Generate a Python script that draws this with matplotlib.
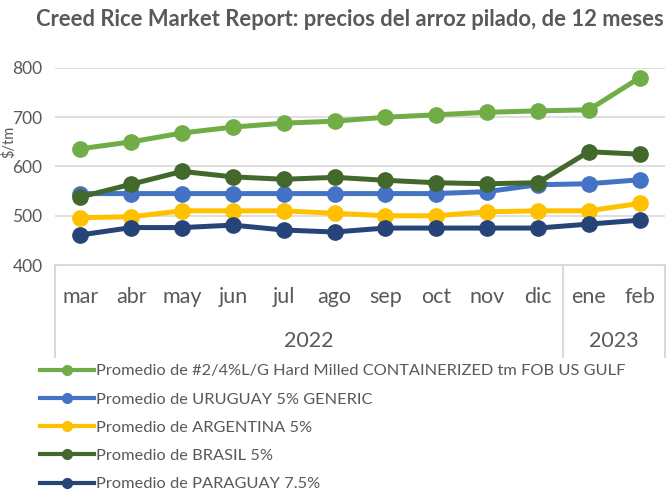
import matplotlib.pyplot as plt
from matplotlib.lines import Line2D

plt.rcParams['font.family'] = ['Lato', 'DejaVu Sans']

meses = ['mar', 'abr', 'may', 'jun', 'jul', 'ago', 'sep', 'oct', 'nov', 'dic', 'ene', 'feb']
anios = ['2022', '2023']
anio_n = [10, 2]

us_gulf = [636, 650, 668, 680, 688, 692, 700, 705, 710, 713, 715, 780]
uruguay = [545, 545, 545, 545, 545, 545, 545, 545, 549, 563, 565, 573]
argentina = [496, 498, 510, 510, 510, 505, 500, 500, 508, 510, 510, 525]
brasil = [538, 564, 590, 579, 574, 578, 572, 567, 565, 567, 630, 625]
paraguay = [461, 476, 476, 481, 471, 467, 475, 475, 475, 475, 483, 491]

series = [
    ('Promedio de #2/4%L/G Hard Milled CONTAINERIZED tm FOB US GULF', us_gulf, '#70AD47'),
    ('Promedio de URUGUAY 5% GENERIC', uruguay, '#4472C4'),
    ('Promedio de ARGENTINA 5%', argentina, '#FFC000'),
    ('Promedio de BRASIL 5%', brasil, '#43682B'),
    ('Promedio de PARAGUAY 7.5%', paraguay, '#264478'),
]

gris = '#595959'
linea = '#D9D9D9'
W, H = 671, 494

fig = plt.figure(figsize=(W / 100, H / 100), dpi=100)
ax = fig.add_axes([55 / W, 1 - 265 / H, 610 / W, 197 / H])

x = list(range(len(meses)))
for nombre, vals, col in series:
    ax.plot(x, vals, color=col, lw=3.6, marker='o', ms=11, zorder=3)

ax.set_xlim(-0.5, len(meses) - 0.5)
ax.set_ylim(400, 800)
ax.set_yticks([400, 500, 600, 700, 800])
ax.tick_params(axis='y', length=0, labelsize=12.5, labelcolor=gris, pad=9)
ax.set_xticks([])
for s in ax.spines.values():
    s.set_visible(False)
ax.grid(axis='y', color=linea, lw=1.2)
ax.set_axisbelow(True)

# category axis boxes
tr = ax.get_xaxis_transform()
fondo = (265 - 357) / 197
ax.plot([-0.5, len(meses) - 0.5], [0, 0], color=linea, lw=1.5, transform=tr, clip_on=False)
corte = [-0.5]
acc = -0.5
for n in anio_n:
    acc += n
    corte.append(acc)
for c in corte:
    ax.plot([c, c], [0, fondo], color=linea, lw=1.5, transform=tr, clip_on=False)

for i, m in enumerate(meses):
    ax.text(i, (265 - 297) / 197, m, transform=tr, ha='center', va='center',
            fontsize=15.5, color=gris)
for j, a in enumerate(anios):
    ax.text((corte[j] + corte[j + 1]) / 2, (265 - 341) / 197, a, transform=tr,
            ha='center', va='center', fontsize=15.5, color=gris)

fig.text(350 / W, 1 - 20 / H, 'Creed Rice Market Report: precios del arroz pilado, de 12 meses',
         ha='center', va='center', fontsize=15.8, fontweight='bold', color=gris)
fig.text(1 / W, 1 - 142 / H, r'\$/tm', rotation=90, ha='left', va='center',
         fontsize=10.5, color=gris)

handles = [Line2D([0], [0], color=col, lw=3, marker='o', ms=7) for _, _, col in series]
fig.legend(handles, [s[0] for s in series], loc='upper left',
           bbox_to_anchor=(40 / W, 1 - 364 / H), frameon=False, borderpad=0,
           borderaxespad=0, handlelength=3.3, handletextpad=0.12,
           labelspacing=0.84, fontsize=11.8, labelcolor=gris)

fig.savefig('out.png', dpi=100)
